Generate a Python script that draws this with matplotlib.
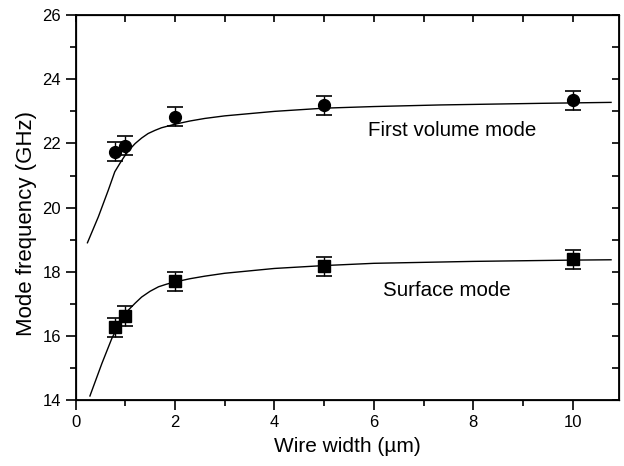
import matplotlib
matplotlib.use("Agg")
import matplotlib.pyplot as plt
from matplotlib.ticker import MultipleLocator

plt.rcParams['font.family'] = ['Liberation Sans', 'DejaVu Sans']

# Measured data
width = [0.8, 1.0, 2.0, 5.0, 10.0]
volume_freq = [21.74, 21.93, 22.84, 23.19, 23.34]
volume_err = [0.3, 0.3, 0.3, 0.3, 0.3]
surface_freq = [16.28, 16.63, 17.71, 18.18, 18.40]
surface_err = [0.3, 0.3, 0.3, 0.3, 0.3]

# Fit curves
volume_fit_x = [0.24, 0.46, 0.66, 0.79, 0.90, 0.98, 1.08, 1.20, 1.33, 1.46, 1.60, 1.73, 2.0, 2.3, 2.6, 3.0, 4.0, 5.0, 6.0, 7.33, 9.34, 10.77]
volume_fit_y = [18.91, 19.72, 20.55, 21.12, 21.40, 21.59, 21.80, 22.0, 22.17, 22.31, 22.41, 22.49, 22.6, 22.70, 22.78, 22.86, 23.0, 23.1, 23.15, 23.2, 23.25, 23.28]
surface_fit_x = [0.29, 0.53, 0.73, 0.90, 1.06, 1.20, 1.33, 1.50, 1.67, 1.83, 2.0, 2.3, 2.6, 3.0, 4.0, 5.0, 6.0, 8.0, 10.0, 10.77]
surface_fit_y = [14.14, 15.15, 15.93, 16.45, 16.81, 17.03, 17.22, 17.40, 17.54, 17.62, 17.69, 17.79, 17.87, 17.96, 18.11, 18.2, 18.27, 18.33, 18.37, 18.38]

fig = plt.figure(figsize=(6.24, 4.66), dpi=100)
ax = fig.add_axes([0.121, 0.1406, 0.871, 0.8272])

ax.plot(volume_fit_x, volume_fit_y, color='black', lw=1.0)
ax.plot(surface_fit_x, surface_fit_y, color='black', lw=1.0)
ax.errorbar(width, volume_freq, yerr=volume_err, fmt='o', color='black',
            markersize=8.5, capsize=6, elinewidth=1.0, capthick=1.2)
ax.errorbar(width, surface_freq, yerr=surface_err, fmt='s', color='black',
            markersize=8, capsize=6, elinewidth=1.0, capthick=1.2)

ax.text(5.89, 22.42, 'First volume mode', fontsize=14.8, va='center', ha='left')
ax.text(6.18, 17.43, 'Surface mode', fontsize=14.8, va='center', ha='left')

ax.set_xlim(0, 10.93)
ax.set_ylim(14, 26)
ax.xaxis.set_major_locator(MultipleLocator(2))
ax.xaxis.set_minor_locator(MultipleLocator(1))
ax.yaxis.set_major_locator(MultipleLocator(2))
ax.yaxis.set_minor_locator(MultipleLocator(1))

for s in ax.spines.values():
    s.set_linewidth(1.3)

ax.tick_params(which='both', direction='out', top=False, right=False, labelsize=12, width=1.2)
ax.tick_params(which='major', length=7)
ax.tick_params(which='minor', length=4)

ax2 = ax.twiny()
ax2.set_xlim(ax.get_xlim())
ax2.xaxis.set_major_locator(MultipleLocator(1))
ax2.tick_params(axis='x', direction='in', length=5, width=1.2, labeltop=False)
ax3 = ax.twinx()
ax3.set_ylim(ax.get_ylim())
ax3.yaxis.set_major_locator(MultipleLocator(1))
ax3.tick_params(axis='y', direction='in', length=5, width=1.2, labelright=False)

ax.set_xlabel('Wire width (\u00b5m)', fontsize=15, labelpad=5)
ax.set_ylabel('Mode frequency (GHz)', fontsize=16)
ax.yaxis.set_label_coords(-0.071, 0.46)

fig.savefig('out.png', dpi=100)
